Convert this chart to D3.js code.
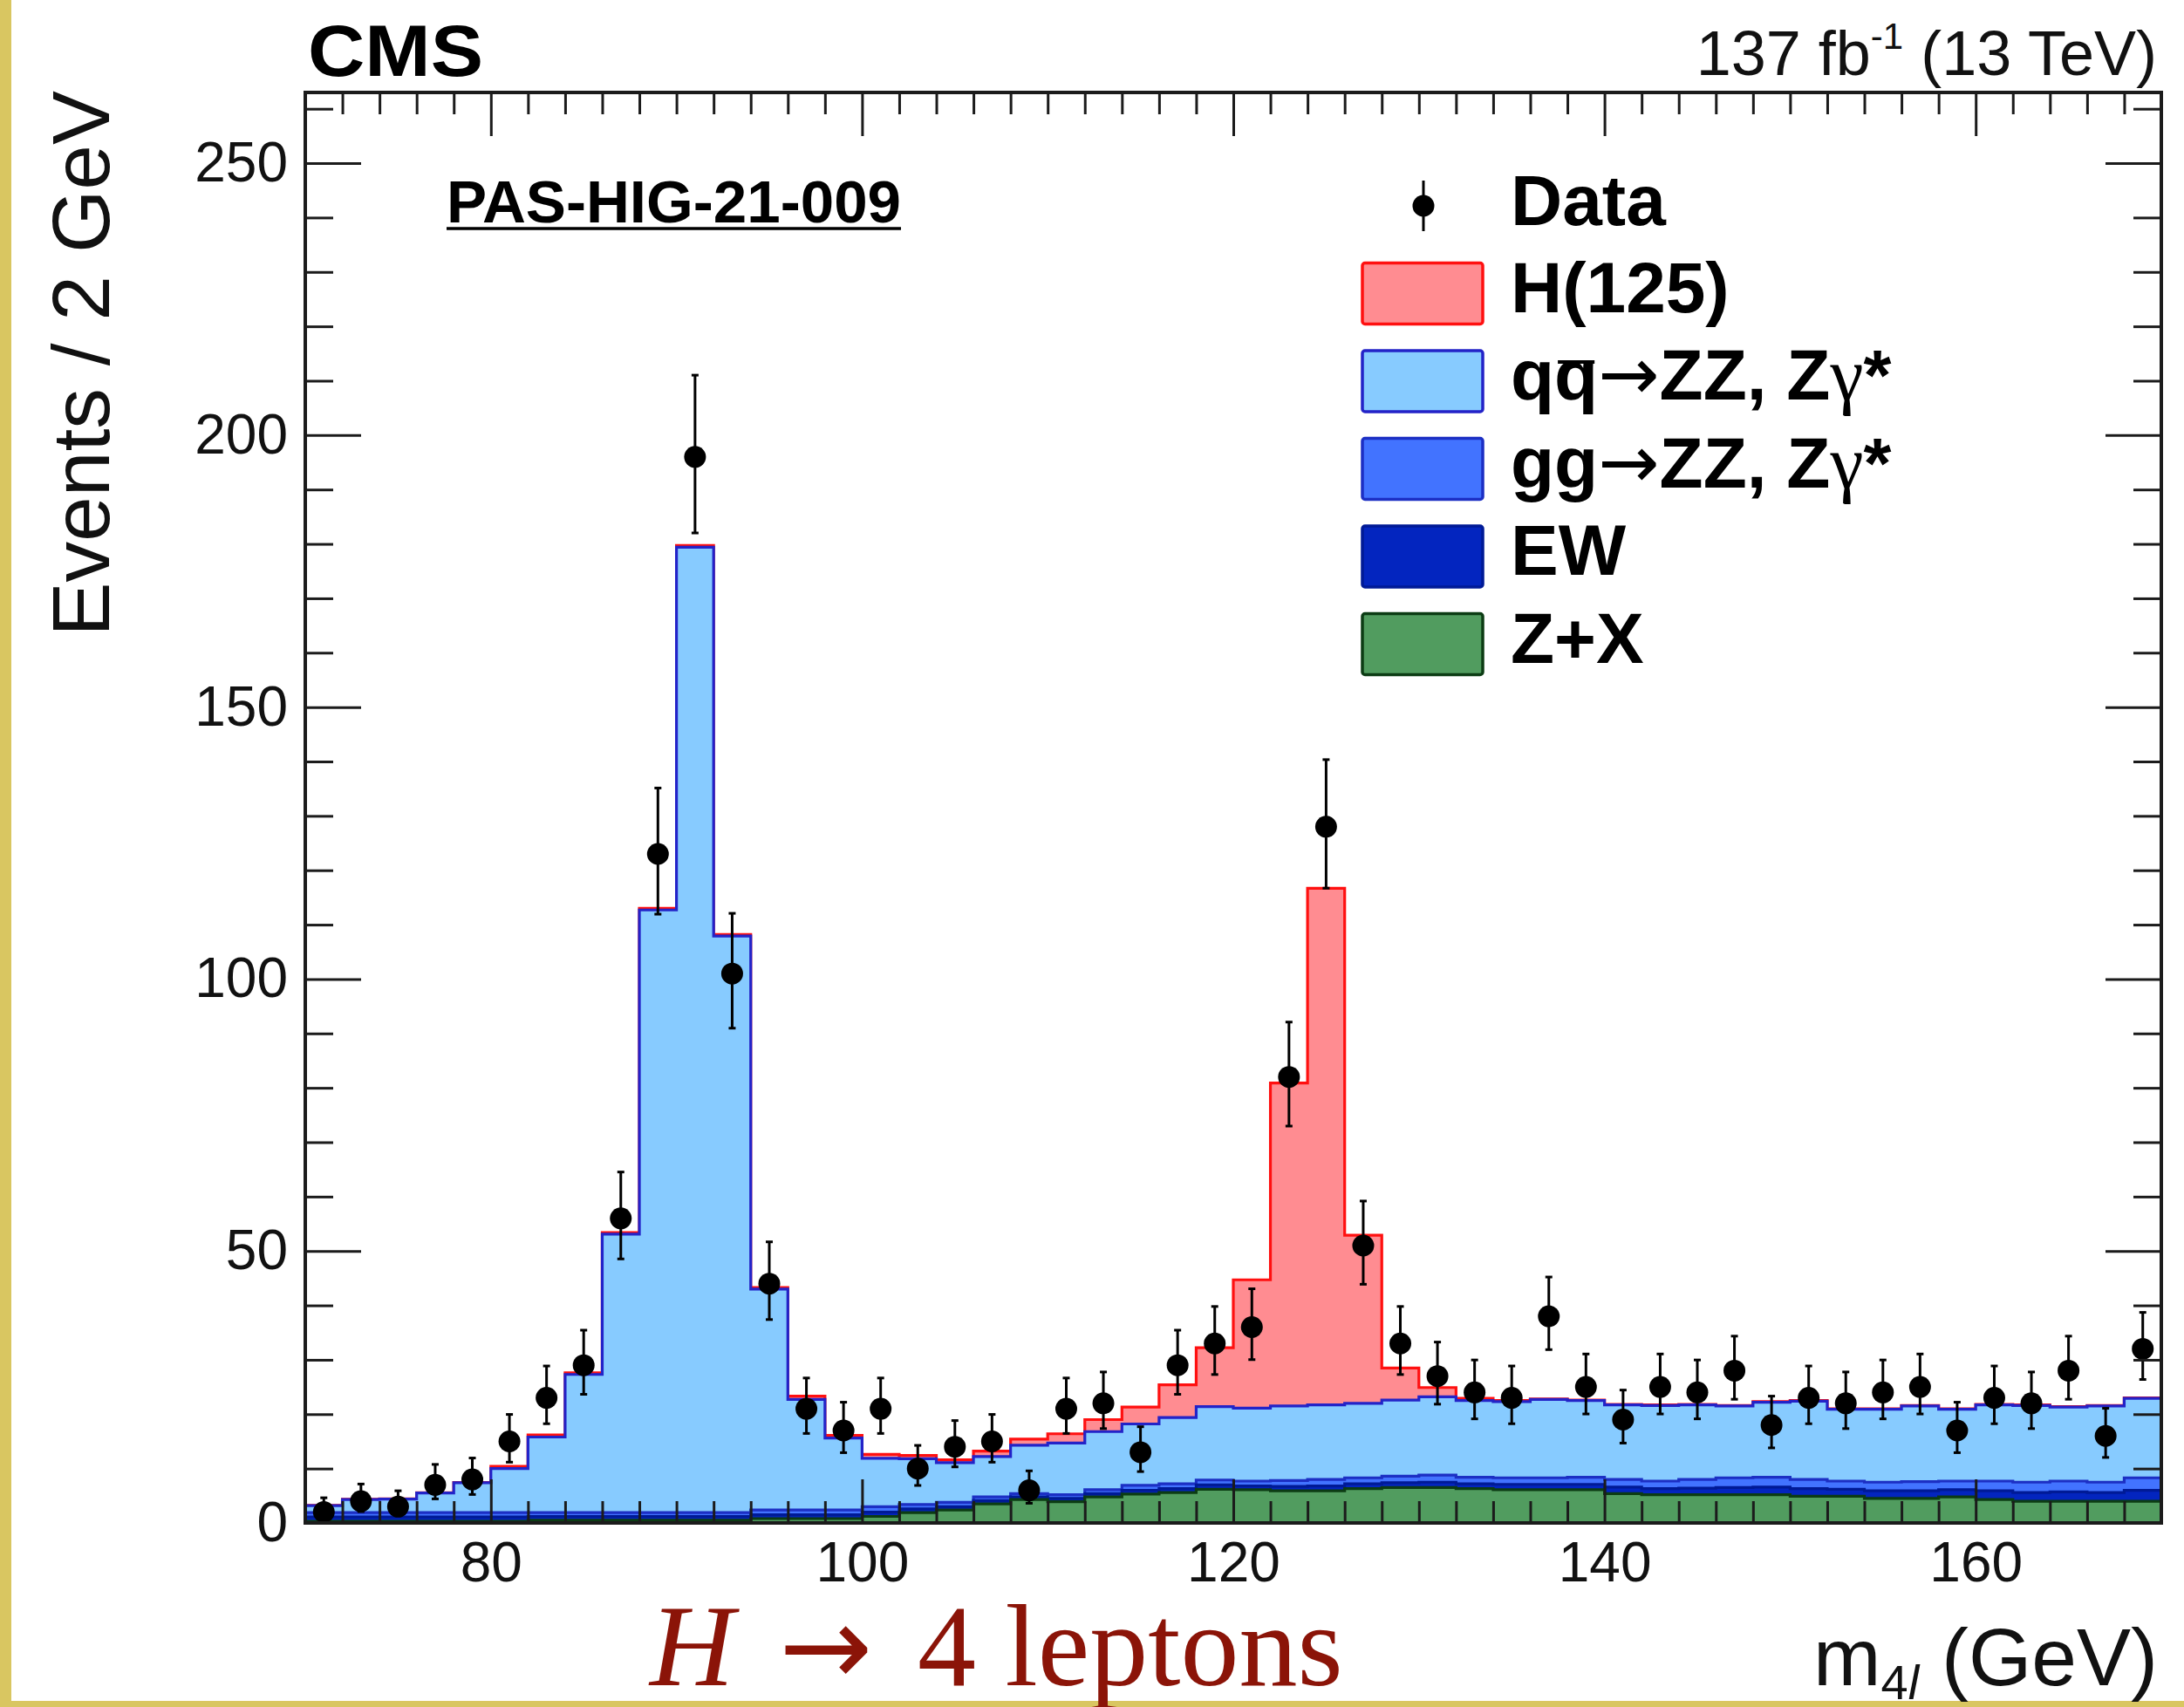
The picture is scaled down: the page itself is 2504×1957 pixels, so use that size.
<!DOCTYPE html>
<html>
<head>
<meta charset="utf-8">
<title>m4l distribution</title>
<script src="https://cdn.jsdelivr.net/npm/d3@7"></script>
<style>
  html, body { margin: 0; padding: 0; background: #fff; overflow: hidden; }
  svg { display: block; }
</style>
</head>
<body>
<svg id="chart" width="2504" height="1957"></svg>
<script>
// ---- Data: four-lepton invariant mass, 2 GeV bins from 70 to 170 GeV ----
const massBins = [71, 73, 75, 77, 79, 81, 83, 85, 87, 89,
                  91, 93, 95, 97, 99, 101, 103, 105, 107, 109,
                  111, 113, 115, 117, 119, 121, 123, 125, 127, 129,
                  131, 133, 135, 137, 139, 141, 143, 145, 147, 149,
                  151, 153, 155, 157, 159, 161, 163, 165, 167, 169];

// observed events per bin
const dataCounts = [2, 4, 3, 7, 8, 15, 23, 29, 56, 123,
                    196, 101, 44, 21, 17, 21, 10, 14, 15, 6,
                    21, 22, 13, 29, 33, 36, 82, 128, 51, 33,
                    27, 24, 23, 38, 25, 19, 25, 24, 28, 18,
                    23, 22, 24, 25, 17, 23, 22, 28, 16, 32];

// expected yields per process (stacked bottom to top: Z+X, EW, gg, qq, H)
const zxYield = [0.3, 0.3, 0.3, 0.3, 0.3, 0.3, 0.5, 0.5, 0.5, 0.5,
                 0.5, 0.5, 0.8, 0.8, 0.8, 1.2, 1.9, 2.4, 3.5, 4.3,
                 3.9, 4.8, 5.3, 5.6, 6.2, 6.1, 5.9, 5.9, 6.3, 6.5,
                 6.5, 6.3, 6.1, 6.1, 6.1, 5.4, 5.2, 5.2, 5.2, 5.2,
                 4.9, 4.9, 4.5, 4.5, 4.8, 4.3, 4.0, 4.0, 4.0, 4.0];

const ewYield = [0.8, 0.8, 0.8, 0.8, 0.8, 0.8, 0.7, 0.7, 0.7, 0.7,
                 0.7, 0.7, 0.7, 0.7, 0.7, 0.8, 0.7, 0.6, 0.6, 0.5,
                 0.6, 0.6, 0.7, 0.7, 0.8, 0.7, 0.8, 0.9, 0.9, 0.9,
                 1.0, 0.9, 1.0, 1.0, 1.0, 1.2, 1.1, 1.2, 1.3, 1.4,
                 1.4, 1.3, 1.4, 1.4, 1.3, 1.6, 1.6, 1.7, 1.6, 2.0];

const ggYield = [0.8, 0.8, 0.8, 0.8, 0.8, 0.8, 0.7, 0.7, 0.7, 0.7,
                 0.7, 0.7, 0.9, 0.9, 0.9, 1.0, 0.8, 0.8, 0.7, 0.6,
                 0.7, 0.7, 0.9, 0.9, 0.9, 0.9, 1.1, 1.2, 1.1, 1.2,
                 1.3, 1.2, 1.2, 1.2, 1.3, 1.4, 1.4, 1.6, 1.8, 1.8,
                 1.7, 1.5, 1.6, 1.7, 1.6, 1.8, 1.9, 2.0, 1.9, 2.3];

const qqYield = [1.3, 2.4, 2.5, 3.6, 5.5, 8.1, 13.9, 25.4, 51.2, 110.8,
                 177.5, 106.0, 40.6, 20.3, 13.2, 8.9, 8.4, 7.3, 7.4, 8.9,
                 9.5, 10.7, 11.3, 12.2, 13.5, 13.4, 13.7, 13.7, 13.7, 14.0,
                 14.4, 14.1, 14.0, 14.4, 14.1, 13.7, 13.9, 13.7, 13.2, 13.8,
                 14.4, 13.2, 13.4, 13.9, 13.2, 14.0, 14.1, 13.6, 14.0, 14.6];

const higgsYield = [0.05, 0.05, 0.05, 0.05, 0.05, 0.4, 0.4, 0.3, 0.3, 0.3,
                    0.3, 0.3, 0.3, 0.6, 0.5, 0.7, 0.6, 0.5, 1.0, 1.1,
                    1.7, 2.2, 3.1, 6.0, 10.8, 23.6, 59.4, 95.0, 30.9, 5.9,
                    1.7, 0.4, 0.2, 0.1, 0.1, 0.1, 0.1, 0.1, 0.1, 0.1,
                    0.1, 0.1, 0.1, 0.1, 0.1, 0.1, 0.1, 0.1, 0.1, 0.1];

// axis ticks
const xMajorTicks = [80, 100, 120, 140, 160];
const yMajorTicks = [0, 50, 100, 150, 200, 250];

// legend entries (top to bottom, after the Data entry)
const legendProcesses = [
  { key: "higgs", label: "H(125)" },
  { key: "qq", label: "qq" },
  { key: "gg", label: "gg" },
  { key: "ew", label: "EW" },
  { key: "zx", label: "Z+X" }
];

// ---- Styles ----
const sans = "'Liberation Sans', Arial, Helvetica, sans-serif";
const serif = "'Liberation Serif', 'Times New Roman', serif";
const arrowFont = "'DejaVu Sans', sans-serif";
const procStyle = {
  higgs: { fill: "#ff8c91", stroke: "#ff1010" },
  qq:    { fill: "#87cbff", stroke: "#2323c8" },
  gg:    { fill: "#4273ff", stroke: "#1c2fc4" },
  ew:    { fill: "#0325bf", stroke: "#001a96" },
  zx:    { fill: "#519c5f", stroke: "#0c3c14" }
};
const axisColor = "#1b1b1b";

// ---- Layout ----
const svg = d3.select("#chart");
const frame = { left: 350, right: 2478, top: 106, bottom: 1746 };

const x = d3.scaleLinear().domain([70, 170]).range([frame.left, frame.right]);
const y = d3.scaleLinear().domain([0, 263]).range([frame.bottom, frame.top]);

// page border
svg.append("rect").attr("x", 0).attr("y", 0).attr("width", 2504).attr("height", 1957).attr("fill", "#fff");
svg.append("rect").attr("x", 0).attr("y", 0).attr("width", 13).attr("height", 1957).attr("fill", "#d9c661");
svg.append("rect").attr("x", 0).attr("y", 1950).attr("width", 2504).attr("height", 7).attr("fill", "#d9c661");

svg.append("defs").append("clipPath").attr("id", "plotClip")
  .append("rect")
  .attr("x", frame.left).attr("y", frame.top)
  .attr("width", frame.right - frame.left).attr("height", frame.bottom - frame.top);

// ---- Stacked histogram ----
const rows = massBins.map((m, i) => ({
  mass: m, zx: zxYield[i], ew: ewYield[i], gg: ggYield[i], qq: qqYield[i], higgs: higgsYield[i]
}));
const stackKeys = ["zx", "ew", "gg", "qq", "higgs"];
const layers = d3.stack().keys(stackKeys)(rows);

const histG = svg.append("g").attr("clip-path", "url(#plotClip)");

function stepPoints(layer) {
  const pts = [];
  layer.forEach((d, i) => {
    const c = massBins[i];
    pts.push({ m: c - 1, v: d[1] });
    pts.push({ m: c + 1, v: d[1] });
  });
  return pts;
}

const area = d3.area()
  .x(d => x(d.m))
  .y0(y(0))
  .y1(d => y(d.v));

const outline = d3.line()
  .x(d => x(d.m))
  .y(d => y(d.v));

// cumulative histograms are drawn from the top of the stack downwards
layers.slice().reverse().forEach(layer => {
  const pts = stepPoints(layer);
  const st = procStyle[layer.key];
  histG.append("path").datum(pts)
    .attr("d", area)
    .attr("fill", st.fill);
  const closed = [{ m: 70, v: 0 }, ...pts, { m: 170, v: 0 }];
  histG.append("path").datum(closed)
    .attr("d", outline)
    .attr("fill", "none")
    .attr("stroke", st.stroke)
    .attr("stroke-width", 3.2)
    .attr("stroke-linejoin", "miter");
});

// ---- Data points with Poisson (Garwood) intervals ----
function poissonLow(n) {
  if (n <= 0) return 0;
  return n * Math.pow(1 - 1 / (9 * n) - 1 / (3 * Math.sqrt(n)), 3);
}
function poissonHigh(n) {
  const k = n + 1;
  return k * Math.pow(1 - 1 / (9 * k) + 1 / (3 * Math.sqrt(k)), 3);
}

const dataG = svg.append("g").attr("clip-path", "url(#plotClip)");
const pts = massBins.map((m, i) => ({ m, n: dataCounts[i] }));

dataG.selectAll("line.err").data(pts).join("line")
  .attr("class", "err")
  .attr("x1", d => x(d.m)).attr("x2", d => x(d.m))
  .attr("y1", d => y(poissonLow(d.n))).attr("y2", d => y(poissonHigh(d.n)))
  .attr("stroke", "#000").attr("stroke-width", 3);
dataG.selectAll("line.capHi").data(pts).join("line")
  .attr("class", "capHi")
  .attr("x1", d => x(d.m) - 4).attr("x2", d => x(d.m) + 4)
  .attr("y1", d => y(poissonHigh(d.n))).attr("y2", d => y(poissonHigh(d.n)))
  .attr("stroke", "#000").attr("stroke-width", 3);
dataG.selectAll("line.capLo").data(pts).join("line")
  .attr("class", "capLo")
  .attr("x1", d => x(d.m) - 4).attr("x2", d => x(d.m) + 4)
  .attr("y1", d => y(poissonLow(d.n))).attr("y2", d => y(poissonLow(d.n)))
  .attr("stroke", "#000").attr("stroke-width", 3);
dataG.selectAll("circle").data(pts).join("circle")
  .attr("cx", d => x(d.m)).attr("cy", d => y(d.n))
  .attr("r", 12.5).attr("fill", "#000");

// ---- Axes (ticks on all four sides, pointing inwards) ----
const xMinorTicks = d3.range(72, 170, 2).filter(v => v % 20 !== 0);
const yMinorTicks = d3.range(10, 263, 10).filter(v => v % 50 !== 0);

function styleAxis(g, showLabels) {
  g.select(".domain").remove();
  g.selectAll(".tick line").attr("stroke", axisColor).attr("stroke-width", 3);
  g.attr("font-family", sans).attr("font-size", 64);
  g.selectAll(".tick text").attr("fill", "#111");
  if (!showLabels) g.selectAll(".tick text").remove();
}

svg.append("g").attr("transform", `translate(0,${frame.bottom})`)
  .call(d3.axisBottom(x).tickValues(xMajorTicks).tickSize(-50).tickPadding(22).tickFormat(d3.format("d")))
  .call(g => styleAxis(g, true));
svg.append("g").attr("transform", `translate(0,${frame.bottom})`)
  .call(d3.axisBottom(x).tickValues(xMinorTicks).tickSize(-25).tickFormat(""))
  .call(g => styleAxis(g, false));
svg.append("g").attr("transform", `translate(0,${frame.top})`)
  .call(d3.axisTop(x).tickValues(xMajorTicks).tickSize(-50).tickFormat(""))
  .call(g => styleAxis(g, false));
svg.append("g").attr("transform", `translate(0,${frame.top})`)
  .call(d3.axisTop(x).tickValues(xMinorTicks).tickSize(-25).tickFormat(""))
  .call(g => styleAxis(g, false));

svg.append("g").attr("transform", `translate(${frame.left},0)`)
  .call(d3.axisLeft(y).tickValues(yMajorTicks).tickSize(-64).tickPadding(20).tickFormat(d3.format("d")))
  .call(g => styleAxis(g, true));
svg.append("g").attr("transform", `translate(${frame.left},0)`)
  .call(d3.axisLeft(y).tickValues(yMinorTicks).tickSize(-32).tickFormat(""))
  .call(g => styleAxis(g, false));
svg.append("g").attr("transform", `translate(${frame.right},0)`)
  .call(d3.axisRight(y).tickValues(yMajorTicks).tickSize(-64).tickFormat(""))
  .call(g => styleAxis(g, false));
svg.append("g").attr("transform", `translate(${frame.right},0)`)
  .call(d3.axisRight(y).tickValues(yMinorTicks).tickSize(-32).tickFormat(""))
  .call(g => styleAxis(g, false));

// frame
svg.append("rect")
  .attr("x", frame.left).attr("y", frame.top)
  .attr("width", frame.right - frame.left).attr("height", frame.bottom - frame.top)
  .attr("fill", "none").attr("stroke", axisColor).attr("stroke-width", 4);

// ---- Axis titles ----
svg.append("text")
  .attr("transform", `translate(125,${frame.top - 2}) rotate(-90)`)
  .attr("text-anchor", "end")
  .attr("font-family", sans).attr("font-size", 93).attr("fill", "#111")
  .text("Events / 2 GeV");

const xTitle = svg.append("text")
  .attr("x", 2474).attr("y", 1932)
  .attr("text-anchor", "end")
  .attr("font-family", sans).attr("font-size", 93).attr("fill", "#111");
xTitle.append("tspan").text("m");
xTitle.append("tspan").attr("font-size", 56).attr("dy", 16).text("4");
xTitle.append("tspan").attr("font-size", 56).attr("font-style", "italic").text("l");
xTitle.append("tspan").attr("dy", -16).text(" (GeV)");

// ---- Header texts ----
svg.append("text")
  .attr("x", 353).attr("y", 87)
  .attr("font-family", sans).attr("font-weight", "bold").attr("font-size", 84)
  .attr("textLength", 201).attr("lengthAdjust", "spacingAndGlyphs")
  .attr("fill", "#000")
  .text("CMS");

const lumi = svg.append("text")
  .attr("x", 2473).attr("y", 86)
  .attr("text-anchor", "end")
  .attr("font-family", sans).attr("font-size", 72).attr("fill", "#111");
lumi.append("tspan").text("137 fb");
lumi.append("tspan").attr("font-size", 42).attr("dy", -30).text("-1");
lumi.append("tspan").attr("dy", 30).text(" (13 TeV)");

svg.append("text")
  .attr("x", 512).attr("y", 255)
  .attr("font-family", sans).attr("font-weight", "bold").attr("font-size", 68)
  .attr("textLength", 521).attr("lengthAdjust", "spacingAndGlyphs")
  .attr("fill", "#000")
  .text("PAS-HIG-21-009");
svg.append("line")
  .attr("x1", 512).attr("x2", 1033).attr("y1", 262).attr("y2", 262)
  .attr("stroke", "#000").attr("stroke-width", 3.5);

// ---- Legend ----
const legend = svg.append("g");
const legendTextX = 1732;
const boxX = 1562, boxW = 138, boxH = 70;
const dataRowY = 236;
const rowY0 = 336.5, rowStep = 100.5;
const legendFont = 82;

legend.append("line")
  .attr("x1", 1632).attr("x2", 1632).attr("y1", dataRowY - 29).attr("y2", dataRowY + 29)
  .attr("stroke", "#000").attr("stroke-width", 3);
legend.append("circle").attr("cx", 1632).attr("cy", dataRowY).attr("r", 12.5).attr("fill", "#000");
legend.append("text")
  .attr("x", legendTextX).attr("y", dataRowY + 22)
  .attr("font-family", sans).attr("font-weight", "bold").attr("font-size", legendFont)
  .attr("fill", "#000").text("Data");

legendProcesses.forEach((p, i) => {
  const cy = rowY0 + i * rowStep;
  const st = procStyle[p.key];
  legend.append("rect")
    .attr("x", boxX).attr("y", cy - boxH / 2).attr("width", boxW).attr("height", boxH)
    .attr("rx", 3)
    .attr("fill", st.fill).attr("stroke", st.stroke).attr("stroke-width", 3.5);
  const t = legend.append("text")
    .attr("x", legendTextX).attr("y", cy + 21)
    .attr("font-family", sans).attr("font-weight", "bold").attr("font-size", legendFont)
    .attr("fill", "#000");
  if (p.key === "qq" || p.key === "gg") {
    const ch = p.key === "qq" ? "q" : "g";
    t.append("tspan").text(ch);
    t.append("tspan").text(ch);
    t.append("tspan").attr("font-weight", "normal").attr("font-family", arrowFont).attr("font-size", 84).text("\u2192");
    t.append("tspan").text("ZZ, Z");
    t.append("tspan").attr("font-weight", "normal").attr("font-family", serif).attr("font-size", 86).text("\u03B3");
    t.append("tspan").text("*");
    if (p.key === "qq") {
      // bar over the anti-quark
      const ext = t.node().getExtentOfChar(1);
      legend.append("line")
        .attr("x1", ext.x + 4).attr("x2", ext.x + ext.width - 4)
        .attr("y1", cy - 22).attr("y2", cy - 22)
        .attr("stroke", "#000").attr("stroke-width", 4);
    }
  } else {
    t.text(p.label);
  }
});

// ---- Caption ----
const cap = svg.append("text")
  .attr("x", 745).attr("y", 1932)
  .attr("font-family", serif).attr("font-size", 134).attr("fill", "#8b1408");
cap.append("tspan").attr("font-style", "italic").text("H ");
cap.append("tspan").attr("dx", 18).attr("font-family", arrowFont).attr("font-size", 128).text("\u2192");
cap.append("tspan").attr("dx", 18).text(" 4 leptons");
</script>
</body>
</html>
